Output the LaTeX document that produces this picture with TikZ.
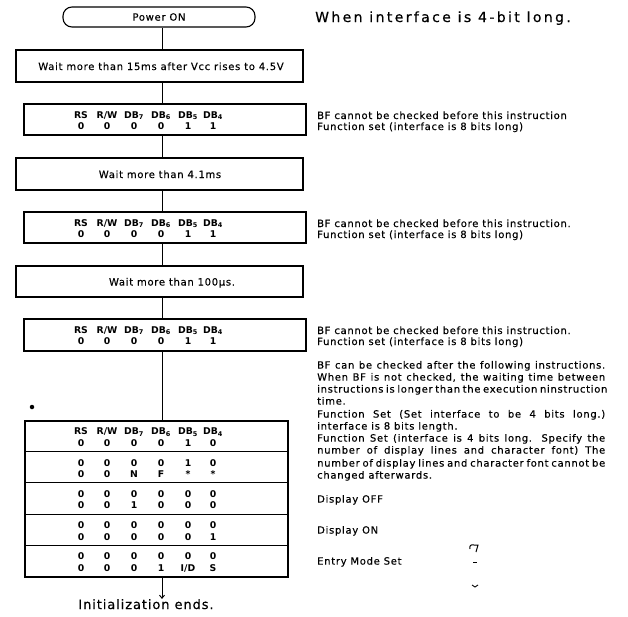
\documentclass[tikz,border=0pt]{standalone}
\usepackage{fontspec}
\setmainfont{DejaVu Sans}
\newfontfamily\txtf[LetterSpace=7,FakeBold=0.3]{DejaVu Sans}
\newfontfamily\ttlf[LetterSpace=17,FakeBold=0.5]{DejaVu Sans}
\newfontfamily\tblf{DejaVu Sans}
\usetikzlibrary{arrows.meta}
\newcommand\cellrow[8]{%
 \node[cell] (#1-1) at (81,#2) {#3};
 \node[cell] (#1-2) at (107,#2) {#4};
 \node[cell] (#1-3) at (134,#2) {#5};
 \node[cell] (#1-4) at (161,#2) {#6};
 \node[cell] (#1-5) at (188,#2) {#7};
 \node[cell] (#1-6) at (213,#2) {#8};}
\newcommand\hdrrow[2]{\cellrow{#1}{#2}{RS}{R/W}{DB\textsubscript{7}}{DB\textsubscript{6}}{DB\textsubscript{5}}{DB\textsubscript{4}}}
\newcommand\jline[1]{\makebox[288pt][s]{#1}}
\tikzset{
 frame/.style={draw, line width=1.1pt, inner sep=0pt},
 conn/.style={draw, line width=1pt},
 cell/.style={anchor=base, inner sep=0pt, font=\tblf\bfseries\fontsize{9.3}{10}\selectfont},
 txt/.style={anchor=base west, inner sep=0pt, font=\txtf\fontsize{10}{12}\selectfont},
 boxtxt/.style={anchor=base, inner sep=0pt, font=\txtf\fontsize{10}{12}\selectfont},
}
\begin{document}
\begin{tikzpicture}[x=1pt,y=-1pt]
\path[use as bounding box] (0,0) rectangle (628,616);
\coordinate (spine) at (162,0);
% left column boxes
\node[frame, rounded corners=9pt, minimum width=192pt, minimum height=20pt, font=\txtf\fontsize{10}{12}\selectfont] (pw) at (159,17) {Power ON};
\node[frame, minimum width=287pt, minimum height=32pt] (w1) at (159.5,66) {};
\node[boxtxt] (w1t) at (161,70) {Wait more than 15ms after Vcc rises to 4.5V};
\node[frame, minimum width=282pt, minimum height=31pt] (i1) at (165,119.5) {};
\hdrrow{i1h}{118}
\cellrow{i1v}{129.5}{0}{0}{0}{0}{1}{1}
\node[frame, minimum width=287pt, minimum height=32pt] (w2) at (159.5,174) {};
\node[boxtxt] (w2t) at (160,178) {Wait more than 4.1ms};
\node[frame, minimum width=282pt, minimum height=31pt] (i2) at (165,227.5) {};
\hdrrow{i2h}{226}
\cellrow{i2v}{237.5}{0}{0}{0}{0}{1}{1}
\node[frame, minimum width=287pt, minimum height=31pt] (w3) at (159.5,281.5) {};
\node[boxtxt] (w3t) at (172,285.5) {Wait more than 100μs.};
\node[frame, minimum width=282pt, minimum height=32pt] (i3) at (165,335) {};
\hdrrow{i3h}{333}
\cellrow{i3v}{344.5}{0}{0}{0}{0}{1}{1}
% big table
\node[frame, minimum width=263pt, minimum height=156pt] (tbl) at (156.5,499) {};
\foreach \k in {1,...,4}
  \draw[conn] ([yshift=-\k*31.2pt]tbl.north west) -- ([yshift=-\k*31.2pt]tbl.north east);
\hdrrow{t1h}{434.5}
\cellrow{t1v}{446.5}{0}{0}{0}{0}{1}{0}
\cellrow{t2a}{466.2}{0}{0}{0}{0}{1}{0}
\cellrow{t2b}{477.7}{0}{0}{N}{F}{*}{*}
\cellrow{t3a}{497.4}{0}{0}{0}{0}{0}{0}
\cellrow{t3b}{508.9}{0}{0}{1}{0}{0}{0}
\cellrow{t4a}{528.6}{0}{0}{0}{0}{0}{0}
\cellrow{t4b}{540.1}{0}{0}{0}{0}{0}{1}
\cellrow{t5a}{559.8}{0}{0}{0}{0}{0}{0}
\cellrow{t5b}{571.3}{0}{0}{0}{1}{I/D}{S}
\node[anchor=base, inner sep=0pt, font=\txtf\fontsize{13}{15}\selectfont] (init) at (146,609) {Initialization ends.};
% connectors
\draw[conn] (pw.south -| spine) -- (w1.north -| spine);
\draw[conn] (w1.south -| spine) -- (i1.north -| spine);
\draw[conn] (i1.south -| spine) -- (w2.north -| spine);
\draw[conn] (w2.south -| spine) -- (i2.north -| spine);
\draw[conn] (i2.south -| spine) -- (w3.north -| spine);
\draw[conn] (w3.south -| spine) -- (i3.north -| spine);
\draw[conn] (i3.south -| spine) -- (tbl.north -| spine);
\draw[conn, -{Straight Barb[length=3pt,width=5pt]}] (tbl.south -| spine) -- (init.north -| spine);
% marks
\node[circle, fill, inner sep=0pt, minimum size=4.5pt] (dot) at (32,407) {};
\draw[line width=1pt] (470,549) .. controls (469,546) and (471,544) .. (474,545) -- (478,545) -- (476,552);
\draw[line width=1pt] (473,562) -- (477,562);
\draw[line width=0.9pt] (472,585) -- (475,587) -- (478,585);
% right texts
\node[anchor=base west, inner sep=0pt, font=\ttlf\fontsize{14}{16}\selectfont] (title) at (315,22) {When interface is 4-bit long.};
\node[txt] (b1a) at (317,119) {BF cannot be checked before this instruction};
\node[txt] (b1b) at (317,130) {Function set (interface is 8 bits long)};
\node[txt] (b2a) at (317,227) {BF cannot be checked before this instruction.};
\node[txt] (b2b) at (317,238) {Function set (interface is 8 bits long)};
\node[txt] (b3a) at (317,334) {BF cannot be checked before this instruction.};
\node[txt] (b3b) at (317,345) {Function set (interface is 8 bits long)};
\node[txt] (b4a) at (317,368.6) {\jline{BF can be checked after the following instructions.}};
\node[txt] (b4b) at (317,380.6) {\jline{When BF is not checked, the waiting time between}};
\node[txt] (b4c) at (317,392.6) {\jline{instructions is longer than the execution ninstruction}};
\node[txt] (b4d) at (317,404.6) {time.};
\node[txt] (b4e) at (317,417.6) {\jline{Function Set (Set interface to be 4 bits long.)}};
\node[txt] (b4f) at (317,429.6) {interface is 8 bits length.};
\node[txt] (b4g) at (317,441.6) {\jline{Function Set (interface is 4 bits long. Specify the}};
\node[txt] (b4h) at (317,453.6) {\jline{number of display lines and character font) The}};
\node[txt] (b4i) at (317,466.6) {\jline{number of display lines and character font cannot be}};
\node[txt] (b4j) at (317,478.6) {changed afterwards.};
\node[txt] (doff) at (317,502.6) {Display OFF};
\node[txt] (don) at (317,533.6) {Display ON};
\node[txt] (ems) at (317,564.6) {Entry Mode Set};
\end{tikzpicture}
\end{document}
